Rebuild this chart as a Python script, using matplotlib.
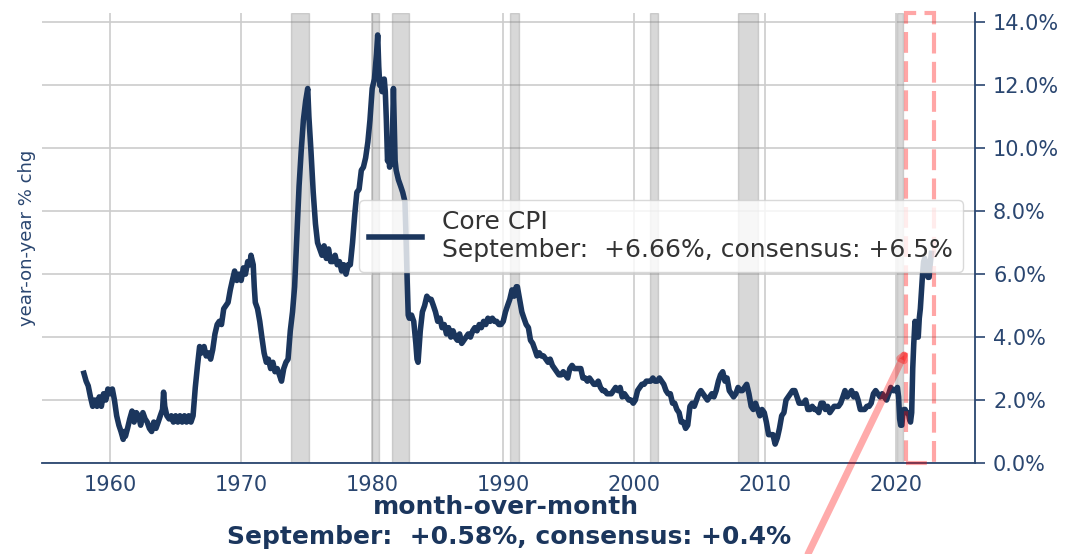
import matplotlib
matplotlib.use("Agg")
import matplotlib.pyplot as plt
from matplotlib.patches import Rectangle

# core CPI, year-on-year % change
years = [
    1958.00, 1958.17, 1958.33, 1958.50, 1958.67, 1958.83, 1959.00, 1959.17, 1959.33, 1959.50, 1959.67, 1959.83,
    1960.00, 1960.17, 1960.33, 1960.50, 1960.67, 1960.83, 1961.00, 1961.08, 1961.17, 1961.33, 1961.50, 1961.67, 1961.83,
    1962.00, 1962.17, 1962.33, 1962.50, 1962.67, 1962.83, 1963.00, 1963.17, 1963.33, 1963.50, 1963.67, 1963.83,
    1964.00, 1964.08, 1964.17, 1964.33, 1964.50, 1964.67, 1964.83, 1965.00, 1965.17, 1965.33, 1965.50, 1965.67, 1965.83,
    1966.00, 1966.17, 1966.33, 1966.50, 1966.67, 1966.83, 1967.00, 1967.17, 1967.33, 1967.50, 1967.67, 1967.83,
    1968.00, 1968.17, 1968.33, 1968.50, 1968.67, 1968.83, 1969.00, 1969.17, 1969.33, 1969.50, 1969.67, 1969.83,
    1970.00, 1970.17, 1970.33, 1970.50, 1970.67, 1970.75, 1970.92, 1971.00, 1971.08, 1971.25, 1971.42, 1971.58, 1971.75, 1971.92,
    1972.08, 1972.25, 1972.42, 1972.58, 1972.75, 1972.92, 1973.08, 1973.25, 1973.42, 1973.58, 1973.75, 1973.92,
    1974.08, 1974.25, 1974.42, 1974.58, 1974.75, 1974.92, 1975.08, 1975.17, 1975.33, 1975.50, 1975.67, 1975.83,
    1976.00, 1976.17, 1976.33, 1976.50, 1976.67, 1976.83, 1977.00, 1977.17, 1977.33, 1977.50, 1977.67, 1977.83,
    1978.00, 1978.17, 1978.33, 1978.50, 1978.67, 1978.83, 1979.00, 1979.17, 1979.33, 1979.50, 1979.67, 1979.83,
    1980.00, 1980.17, 1980.33, 1980.42, 1980.50, 1980.58, 1980.67, 1980.75, 1980.83, 1980.92,
    1981.00, 1981.08, 1981.17, 1981.25, 1981.33, 1981.42, 1981.50, 1981.58, 1981.62, 1981.67, 1981.75, 1981.83,
    1982.00, 1982.17, 1982.33, 1982.50, 1982.58, 1982.67, 1982.75, 1982.83,
    1983.00, 1983.17, 1983.33, 1983.42, 1983.50, 1983.67, 1983.83, 1984.00, 1984.17, 1984.33, 1984.50, 1984.67, 1984.83,
    1985.00, 1985.17, 1985.33, 1985.50, 1985.67, 1985.83, 1986.00, 1986.17, 1986.33, 1986.50, 1986.67, 1986.83,
    1987.00, 1987.17, 1987.33, 1987.50, 1987.67, 1987.83, 1988.00, 1988.17, 1988.33, 1988.50, 1988.67, 1988.83,
    1989.00, 1989.17, 1989.33, 1989.50, 1989.67, 1989.83, 1990.00, 1990.17, 1990.33, 1990.50, 1990.67, 1990.83,
    1991.00, 1991.08, 1991.25, 1991.42, 1991.58, 1991.75, 1991.92, 1992.08, 1992.25, 1992.42, 1992.58, 1992.75, 1992.92,
    1993.08, 1993.25, 1993.42, 1993.58, 1993.75, 1993.92, 1994.08, 1994.25, 1994.42, 1994.58, 1994.75, 1994.92,
    1995.08, 1995.25, 1995.42, 1995.58, 1995.75, 1995.92, 1996.08, 1996.25, 1996.42, 1996.58, 1996.75, 1996.92,
    1997.08, 1997.25, 1997.42, 1997.58, 1997.75, 1997.92, 1998.08, 1998.25, 1998.42, 1998.58, 1998.75, 1998.92,
    1999.08, 1999.25, 1999.42, 1999.58, 1999.75, 1999.92, 2000.08, 2000.25, 2000.42, 2000.58, 2000.75, 2000.92,
    2001.08, 2001.25, 2001.42, 2001.58, 2001.75, 2001.92, 2002.08, 2002.25, 2002.42, 2002.58, 2002.75, 2002.92,
    2003.08, 2003.25, 2003.42, 2003.58, 2003.75, 2003.92, 2004.08, 2004.25, 2004.42, 2004.58, 2004.75, 2004.92,
    2005.08, 2005.25, 2005.42, 2005.58, 2005.75, 2005.92, 2006.08, 2006.25, 2006.42, 2006.58, 2006.75, 2006.92,
    2007.08, 2007.25, 2007.42, 2007.58, 2007.75, 2007.92, 2008.08, 2008.25, 2008.42, 2008.58, 2008.75, 2008.92,
    2009.08, 2009.25, 2009.42, 2009.58, 2009.75, 2009.92, 2010.08, 2010.25, 2010.42, 2010.58, 2010.75, 2010.92,
    2011.08, 2011.25, 2011.42, 2011.58, 2011.75, 2011.92, 2012.08, 2012.25, 2012.42, 2012.58, 2012.75, 2012.92,
    2013.08, 2013.25, 2013.42, 2013.58, 2013.75, 2013.92, 2014.08, 2014.25, 2014.42, 2014.58, 2014.75, 2014.92,
    2015.08, 2015.25, 2015.42, 2015.58, 2015.75, 2015.92, 2016.08, 2016.25, 2016.42, 2016.58, 2016.75, 2016.92,
    2017.08, 2017.25, 2017.42, 2017.58, 2017.75, 2017.92, 2018.08, 2018.25, 2018.42, 2018.58, 2018.75, 2018.92,
    2019.08, 2019.25, 2019.42, 2019.58, 2019.75, 2019.92, 2020.08, 2020.17, 2020.25, 2020.33, 2020.42, 2020.50,
    2020.58, 2020.67, 2020.75, 2020.83, 2020.92, 2021.00, 2021.08, 2021.17, 2021.25, 2021.33, 2021.42, 2021.50,
    2021.58, 2021.67, 2021.75, 2021.83, 2021.92, 2022.00, 2022.08, 2022.17, 2022.25, 2022.33, 2022.42, 2022.50,
    2022.58, 2022.67,
]
core_cpi = [
    2.85, 2.6, 2.45, 2.1, 1.8, 2.0, 1.8, 2.1, 1.8, 2.2, 2.0, 2.35,
    2.2, 2.35, 2.0, 1.5, 1.2, 1.0, 0.75, 1.0, 0.85, 1.1, 1.4, 1.65, 1.3,
    1.6, 1.5, 1.2, 1.6, 1.4, 1.3, 1.1, 1.0, 1.3, 1.1, 1.3, 1.5,
    1.7, 2.25, 1.8, 1.5, 1.4, 1.5, 1.3, 1.5, 1.3, 1.5, 1.3, 1.5, 1.3,
    1.5, 1.3, 1.5, 2.4, 3.1, 3.7, 3.5, 3.7, 3.4, 3.5, 3.3, 3.6,
    4.1, 4.4, 4.5, 4.4, 4.9, 5.0, 5.1, 5.5, 5.8, 6.1, 5.8, 6.0,
    5.8, 6.2, 6.0, 6.4, 6.3, 6.6, 6.3, 5.6, 5.1, 4.9, 4.5, 4.0, 3.5, 3.2,
    3.3, 3.0, 3.2, 2.9, 3.0, 2.8, 2.6, 3.0, 3.2, 3.3, 4.2, 4.8,
    5.6, 7.2, 8.8, 9.9, 10.9, 11.5, 11.9, 11.0, 9.9, 8.6, 7.6, 7.0,
    6.8, 6.6, 6.9, 6.5, 6.8, 6.4, 6.4, 6.6, 6.3, 6.4, 6.1, 6.3,
    6.0, 6.3, 6.3, 7.0, 7.9, 8.6, 8.7, 9.3, 9.4, 9.7, 10.2, 10.9,
    11.9, 12.2, 13.0, 13.6, 12.6, 12.0, 12.2, 11.8, 12.0, 12.2,
    11.8, 10.9, 9.6, 9.8, 9.4, 9.7, 9.5, 11.2, 11.9, 11.0, 9.6, 9.3,
    9.0, 8.8, 8.6, 8.3, 7.2, 5.8, 4.7, 4.6,
    4.7, 4.5, 3.8, 3.3, 3.2, 4.2, 4.8, 5.0, 5.3, 5.2, 5.2, 5.0, 4.8,
    4.5, 4.6, 4.3, 4.4, 4.1, 4.3, 4.0, 4.2, 4.0, 3.9, 4.1, 3.8,
    3.9, 4.0, 4.1, 4.0, 4.2, 4.3, 4.2, 4.4, 4.3, 4.5, 4.4, 4.6,
    4.5, 4.6, 4.5, 4.5, 4.4, 4.4, 4.5, 4.8, 5.0, 5.2, 5.5, 5.3,
    5.6, 5.6, 5.2, 4.8, 4.6, 4.4, 4.3, 3.9, 3.8, 3.6, 3.4, 3.5, 3.4,
    3.4, 3.3, 3.2, 3.3, 3.1, 3.0, 2.9, 2.8, 2.8, 2.9, 2.8, 2.7,
    3.0, 3.1, 3.0, 3.0, 3.0, 3.0, 2.7, 2.7, 2.6, 2.7, 2.6, 2.5,
    2.5, 2.6, 2.4, 2.3, 2.3, 2.2, 2.2, 2.2, 2.3, 2.4, 2.3, 2.4,
    2.1, 2.2, 2.1, 2.0, 2.0, 1.9, 2.0, 2.3, 2.4, 2.5, 2.5, 2.6,
    2.6, 2.6, 2.7, 2.6, 2.6, 2.7, 2.6, 2.5, 2.3, 2.2, 2.2, 1.9,
    1.9, 1.7, 1.6, 1.3, 1.3, 1.1, 1.2, 1.8, 1.9, 1.8, 2.0, 2.2,
    2.3, 2.2, 2.1, 2.0, 2.1, 2.2, 2.1, 2.3, 2.6, 2.8, 2.9, 2.6,
    2.7, 2.3, 2.2, 2.1, 2.2, 2.4, 2.3, 2.3, 2.4, 2.5, 2.2, 1.8,
    1.7, 1.9, 1.7, 1.5, 1.7, 1.6, 1.3, 0.9, 0.9, 0.9, 0.6, 0.8,
    1.1, 1.5, 1.6, 2.0, 2.1, 2.2, 2.3, 2.3, 2.1, 1.9, 1.9, 1.9,
    2.0, 1.7, 1.7, 1.8, 1.7, 1.7, 1.6, 1.9, 1.9, 1.7, 1.8, 1.6,
    1.7, 1.8, 1.8, 1.8, 1.9, 2.1, 2.3, 2.1, 2.2, 2.3, 2.1, 2.2,
    2.0, 1.7, 1.7, 1.7, 1.8, 1.8, 1.9, 2.2, 2.3, 2.2, 2.1, 2.2,
    2.1, 2.0, 2.2, 2.4, 2.3, 2.3, 2.4, 2.1, 1.4, 1.2, 1.2, 1.6,
    1.7, 1.7, 1.6, 1.6, 1.6, 1.4, 1.3, 1.6, 3.0, 3.8, 4.5, 4.3,
    4.0, 4.0, 4.6, 4.9, 5.5, 6.0, 6.4, 6.5, 6.2, 6.0, 5.9, 5.9,
    6.3, 6.66,
]

recessions = [(1973.83, 1975.17), (1980.0, 1980.5), (1981.5, 1982.83), (1990.5, 1991.17),
              (2001.17, 2001.83), (2007.92, 2009.42), (2020.08, 2020.5)]
highlight = (2020.75, 2022.85)
arrow_tip = (2020.85, 3.65)

x_ticks = [1960, 1970, 1980, 1990, 2000, 2010, 2020]
y_ticks = [0, 2, 4, 6, 8, 10, 12, 14]

navy = "#1b365d"
label_col = "#2a4670"

fig = plt.figure(figsize=(10.68, 5.54), dpi=100)
ax = fig.add_axes([0.0393, 0.1643, 0.8736, 0.8123])

for start, end in recessions:
    ax.axvspan(start, end, color="grey", alpha=0.3, zorder=1)

ax.plot(years, core_cpi, color=navy, lw=4, zorder=3,
        label="Core CPI\nSeptember:  +6.66%, consensus: +6.5%")

ax.add_patch(Rectangle((highlight[0], 0), highlight[1] - highlight[0], 14.3,
                       fill=False, edgecolor="red", alpha=0.35, lw=3,
                       linestyle=(0, (5, 2)), zorder=4, clip_on=False))

ax.annotate("", xy=arrow_tip, xycoords="data",
            xytext=(808 / 1068, 0.0), textcoords="figure fraction",
            arrowprops=dict(arrowstyle="-|>", color="red", alpha=0.33, lw=5,
                            shrinkA=0, shrinkB=0, mutation_scale=9),
            annotation_clip=False, zorder=5)

ax.set_xlim(1954.8, 2026.0)
ax.set_ylim(0, 14.3)
ax.set_xticks(x_ticks)
ax.set_yticks(y_ticks)
ax.set_yticklabels([f"{v:.1f}%" for v in y_ticks])
ax.yaxis.tick_right()
ax.yaxis.set_label_position("left")
ax.set_ylabel("year-on-year % chg", fontsize=13, color=label_col, labelpad=4)

ax.grid(True, color="#cccccc", lw=1.2, zorder=0)
ax.set_axisbelow(True)

ax.spines["top"].set_visible(False)
ax.spines["left"].set_visible(False)
for s in ("bottom", "right"):
    ax.spines[s].set_color(label_col)
    ax.spines[s].set_linewidth(1.3)

ax.tick_params(axis="x", length=0, pad=9, labelsize=15, labelcolor=label_col)
ax.tick_params(axis="y", length=7, width=1.2, color=label_col, pad=6,
               labelsize=15, labelcolor=label_col)

leg = ax.legend(loc="upper right", bbox_to_anchor=(0.987, 0.584), borderaxespad=0,
                fontsize=18, framealpha=0.8, edgecolor="#d0d0d0", handlelength=2.1)
for t in leg.get_texts():
    t.set_color("#333333")
leg.set_zorder(6)

fig.text(0.474, 0.085, "month-over-month", ha="center", va="center",
         fontsize=18, fontweight="bold", color=navy)
fig.text(0.477, 0.031, "September:  +0.58%, consensus: +0.4%", ha="center", va="center",
         fontsize=18, fontweight="bold", color=navy)

fig.savefig("out.png", dpi=100)
